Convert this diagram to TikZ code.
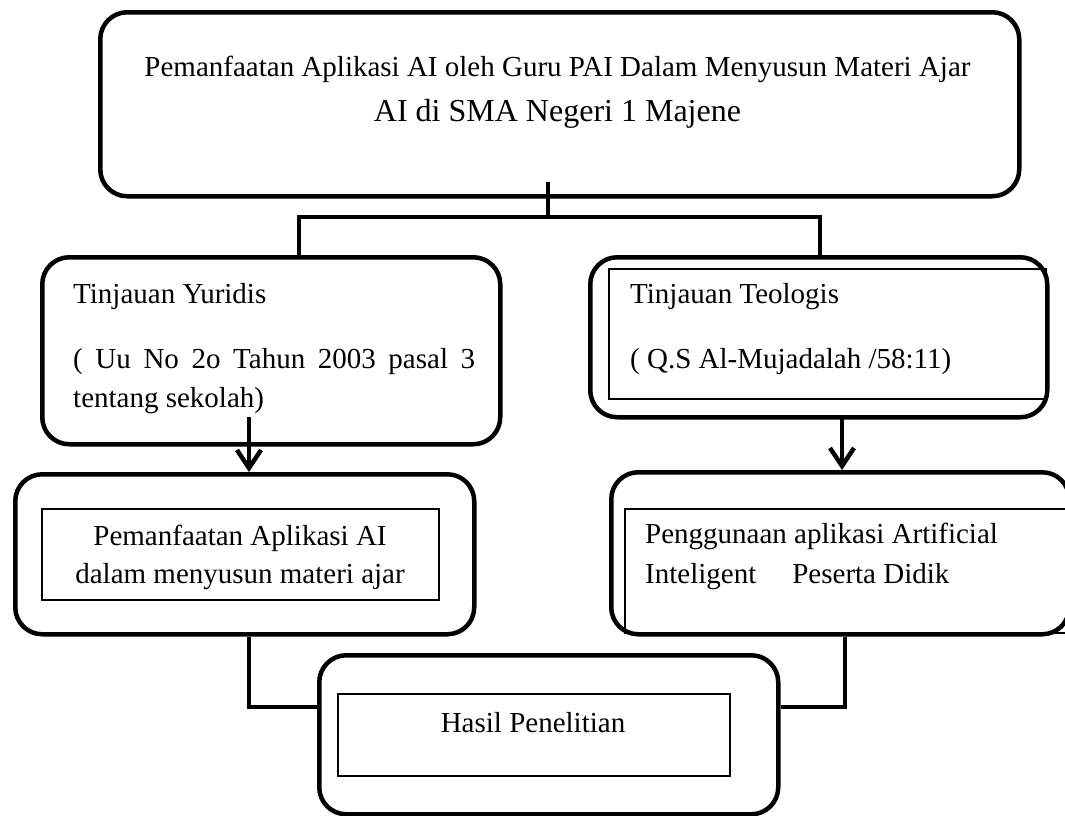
\documentclass[tikz,border=0pt]{standalone}
\usepackage{fontspec}
\setmainfont{Liberation Serif}
\usetikzlibrary{arrows.meta}
\begin{document}
\begin{tikzpicture}[x=1pt,y=-1pt,
  rbox/.style={draw, line width=4.5pt, rounded corners=27pt, inner sep=0pt, anchor=north west},
  ibox/.style={draw, line width=1.6pt, inner sep=0pt, anchor=north west},
  conn/.style={line width=4.5pt, line join=miter},
  arr/.style={line width=4.5pt, -{Straight Barb[length=18pt,width=24pt,line width=4.5pt]}},
  txt/.style={inner sep=0pt, font=\fontsize{29}{35}\selectfont},
  big/.style={inner sep=0pt, font=\fontsize{32}{38}\selectfont}]
\useasboundingbox (0,0) rectangle (1065,815);
\clip (0,0) rectangle (1065,815);
% boxes
\node[rbox, minimum width=919pt, minimum height=184pt] (top) at (98,10) {};
\node[rbox, minimum width=458pt, minimum height=187pt] (yur) at (40,255) {};
\node[rbox, minimum width=457pt, minimum height=160pt] (teo) at (588,255) {};
\node[ibox, minimum width=437pt, minimum height=130pt] (teoin) at (608,268) {};
\node[rbox, minimum width=459pt, minimum height=160pt] (left2) at (13,472) {};
\node[ibox, minimum width=397pt, minimum height=91pt] (left2in) at (41,508) {};
\node[rbox, minimum width=458pt, minimum height=162pt] (right2) at (609,470) {};
\node[ibox, minimum width=460pt, minimum height=124pt] (right2in) at (624,508) {};
\node[rbox, minimum width=459pt, minimum height=159pt] (hasil) at (317,653) {};
\node[ibox, minimum width=392pt, minimum height=82pt] (hasilin) at (337,693) {};
% texts
\node[txt, anchor=base] (t1) at (557.5,76) {Pemanfaatan Aplikasi AI oleh Guru PAI Dalam Menyusun Materi Ajar};
\node[big, anchor=base] (t2) at (557.5,121) {AI di SMA Negeri 1 Majene};
\node[txt, anchor=base west] (y1) at (73,303) {Tinjauan Yuridis};
\node[txt, anchor=base west] (y2) at (73,368) {\makebox[402pt][s]{( Uu No 2o Tahun 2003 pasal 3}};
\node[txt, anchor=base west] (y3) at (73,407) {tentang sekolah)};
\node[txt, anchor=base west] (g1) at (630,303) {Tinjauan Teologis};
\node[txt, anchor=base west] (g2) at (630,368) {( Q.S Al-Mujadalah /58:11)};
\node[txt, anchor=base] (l1) at (240,545) {Pemanfaatan Aplikasi AI};
\node[txt, anchor=base] (l2) at (240,583) {dalam menyusun materi ajar};
\node[txt, anchor=base west] (r1) at (645,543) {Penggunaan aplikasi Artificial};
\node[txt, anchor=base west] (r2) at (645,583) {Inteligent\hspace{36pt}Peserta Didik};
\node[txt, anchor=base] (h1) at (533,732) {Hasil Penelitian};
% connectors
\coordinate (t0) at (548,182);
\coordinate (j) at (548,217);
\coordinate (hl) at (299,217);
\coordinate (hr) at (820,217);
\draw[conn] (t0) -- (j);
\draw[conn] (hl |- yur.north) -- (hl) -- (hr) -- (hr |- teo.north);
\coordinate (a1) at (249,417);
\coordinate (a2) at (842,415);
\draw[arr] (a1) -- (a1 |- left2.north);
\draw[arr] (a2) -- (a2 |- right2.north);
\coordinate (bl) at (249,707);
\coordinate (br) at (845,707);
\draw[conn] (bl |- left2.south) -- (bl) -- (bl -| hasil.west);
\draw[conn] (br |- right2.south) -- (br) -- (br -| hasil.east);
\end{tikzpicture}
\end{document}
